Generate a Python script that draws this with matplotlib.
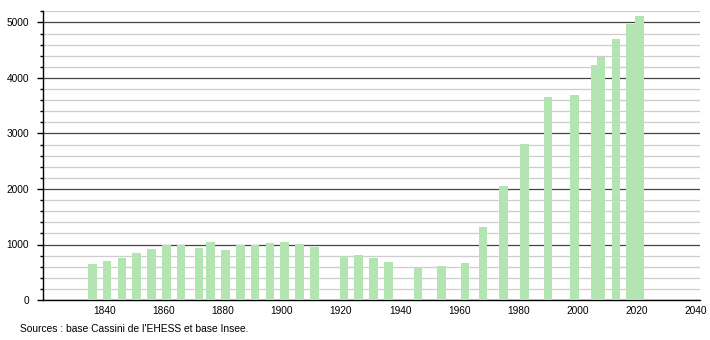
import matplotlib
matplotlib.use('Agg')
import matplotlib.pyplot as plt
from matplotlib.ticker import MultipleLocator

plt.rcParams['font.family'] = ['Liberation Sans', 'DejaVu Sans']

# années des recensements et population
annees = [1836, 1841, 1846, 1851, 1856, 1861, 1866, 1872, 1876, 1881,
          1886, 1891, 1896, 1901, 1906, 1911, 1921, 1926, 1931, 1936,
          1946, 1954, 1962, 1968, 1975, 1982, 1990, 1999, 2006, 2008,
          2013, 2018, 2021]
population = [650, 710, 760, 850, 925, 990, 990, 943, 1050, 907,
              997, 985, 1033, 1050, 1015, 961, 793, 811, 757, 685,
              589, 613, 667, 1315, 2060, 2805, 3658, 3694, 4234, 4372,
              4703, 4973, 5117]
source = "Sources : base Cassini de l'EHESS et base Insee."

fig = plt.figure(figsize=(7.1, 3.4), dpi=100)
ax = fig.add_axes([43 / 710, 1 - 300 / 340, 657 / 710, 288.6 / 340])

ax.bar(annees, population, width=2.9, color='#b3e5b3', zorder=3)

ax.set_xlim(1819.3, 2041.4)
ax.set_ylim(0, 5200)

# grille : gris clair tous les 200, foncé tous les 1000
ax.yaxis.set_major_locator(MultipleLocator(1000))
ax.yaxis.set_minor_locator(MultipleLocator(200))
ax.grid(axis='y', which='minor', color='#cdcdcd', linewidth=0.9, zorder=1)
ax.grid(axis='y', which='major', color='#454545', linewidth=0.9, zorder=2)
ax.set_xticks(range(1840, 2041, 20))

for s in ['top', 'right']:
    ax.spines[s].set_visible(False)
ax.spines['left'].set_linewidth(1)
ax.spines['bottom'].set_linewidth(1)

ax.tick_params(axis='y', which='major', length=4, width=1, labelsize=7.3, pad=6)
ax.tick_params(axis='y', which='minor', length=2, width=1)
ax.tick_params(axis='x', which='both', length=0, labelsize=7.3, pad=4)

fig.text(20 / 710, 1 - 329 / 340, source, fontsize=7.4, va='center', ha='left')

fig.savefig('out.png', dpi=100)
